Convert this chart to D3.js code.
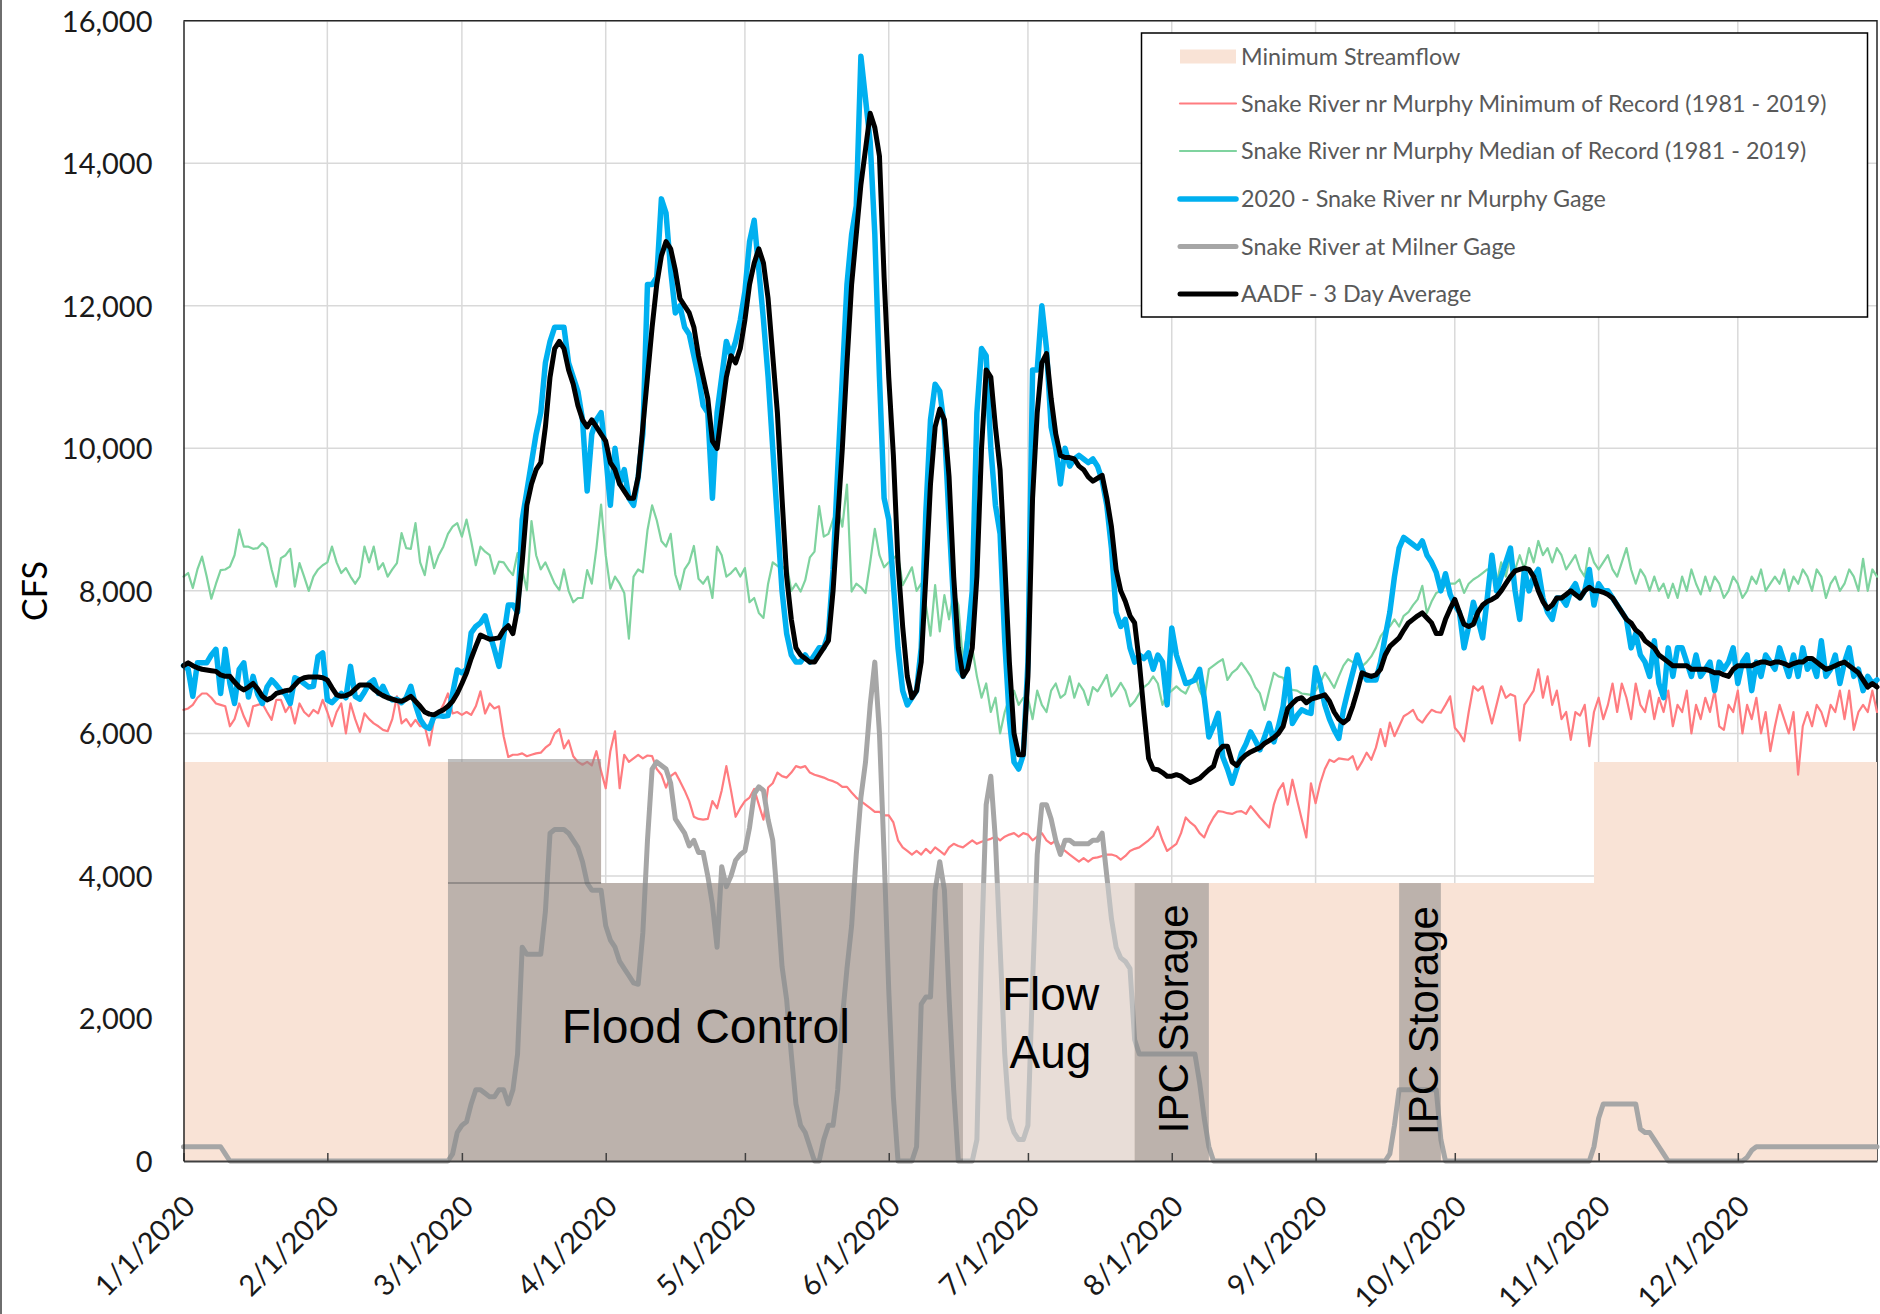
<!DOCTYPE html>
<html>
<head>
<meta charset="utf-8">
<title>Snake River flows 2020</title>
<script src="https://cdn.jsdelivr.net/npm/d3@7/dist/d3.min.js"></script>
<style>
  html, body { margin: 0; padding: 0; background: #ffffff; }
  svg { display: block; }
</style>
</head>
<body>
<svg id="chart" width="1880" height="1314"></svg>
<script>
// ====================== DATA ======================
const year = 2020;
const monthTickLabels = ["1/1/2020","2/1/2020","3/1/2020","4/1/2020","5/1/2020","6/1/2020",
  "7/1/2020","8/1/2020","9/1/2020","10/1/2020","11/1/2020","12/1/2020"];
const yTickValues = [0, 2000, 4000, 6000, 8000, 10000, 12000, 14000, 16000];

// Daily CFS values, one inner array per month (Jan..Dec 2020)
const minRecord = [
  [6330,6350,6400,6500,6560,6560,6500,6420,6400,6380,6100,6200,6420,6240,6100,6380,6400,6420,6300,6190,6470,6470,6300,6400,6140,6420,6300,6240,6330,6280,6470],
  [6300,6100,6300,6420,6000,6420,6200,6020,6280,6200,6140,6100,6050,6030,6200,6520,6140,6200,6100,6190,6100,6100,5830,6190,6280,6400,6560,6280,6300],
  [6260,6300,6260,6380,6590,6280,6420,6350,6380,5960,5670,5700,5700,5720,5680,5700,5720,5730,5800,5850,6000,6060,5790,5900,5680,5600,5560,5600,5550,5750,5470],
  [5230,5750,6030,5230,5700,5600,5650,5700,5650,5690,5680,5500,5420,5240,5400,5450,5330,5200,5050,4830,4800,4790,4800,5050,4950,5200,5540,5200,4830,4950],
  [5050,5100,5220,5000,4790,5240,5300,5450,5400,5380,5450,5540,5520,5540,5450,5420,5400,5380,5350,5330,5300,5250,5250,5170,5100,5050,5000,4950,4900,4900,4850],
  [4850,4750,4500,4400,4350,4300,4350,4300,4380,4320,4400,4350,4300,4400,4450,4420,4400,4450,4500,4450,4480,4500,4520,4550,4500,4550,4580,4600,4550,4600],
  [4580,4500,4550,4600,4500,4450,4500,4400,4350,4300,4250,4200,4250,4200,4250,4260,4280,4300,4300,4280,4230,4280,4350,4380,4400,4450,4500,4560,4690,4500,4350],
  [4400,4450,4600,4820,4750,4700,4600,4540,4700,4820,4910,4900,4880,4870,4900,4910,4870,4980,4900,4820,4750,4680,5000,5200,5300,5000,5350,5070,4800,4540,5300],
  [5020,5300,5500,5630,5600,5650,5640,5630,5680,5490,5600,5730,5630,5800,6060,5820,6150,5960,6100,6240,6280,6330,6200,6150,6250,6330,6300,6290,6400,6520],
  [6080,6000,5890,6300,6660,6600,6660,6400,6140,6400,6660,6500,6550,6520,5900,6400,6500,6600,6900,6500,6800,6400,6600,6200,6300,5910,6300,6250,6400,5820,6300],
  [6500,6200,6400,6700,6300,6700,6500,6200,6700,6400,6300,6600,6200,6500,6300,6600,6100,6400,6300,6600,6000,6400,6200,6500,6300,6600,6100,6050,6400,6300],
  [6600,6000,6400,6200,6500,6000,6300,5750,6100,6400,6200,6000,6300,5420,6100,6300,6100,6400,6300,6100,6400,6300,6600,6200,6600,6050,6300,6400,6300,6600,6300]
];

const medianRecord = [
  [8200,8250,8040,8300,8480,8200,7890,8100,8290,8300,8340,8500,8860,8620,8620,8590,8600,8670,8600,8300,8060,8460,8500,8590,8060,8390,8200,8000,8200,8300,8360],
  [8400,8620,8400,8250,8320,8200,8100,8200,8620,8400,8620,8300,8390,8200,8300,8390,8810,8600,8590,8950,8400,8220,8620,8320,8500,8620,8800,8900,8950],
  [8760,9000,8700,8360,8620,8550,8500,8240,8410,8400,8300,8220,8530,8300,8010,8980,8500,8300,8400,8250,8100,8010,8300,8000,7840,7900,7900,8290,8100,8600,9210],
  [8500,8030,8200,8100,7970,7330,8200,8300,8260,8850,9200,8990,8700,8620,8800,8230,8020,8300,8400,8630,8170,8100,8200,7900,8620,8500,8200,8250,8320,8200],
  [8320,7840,7900,7690,7620,8100,8400,8350,8300,8380,8000,8100,7990,8150,8470,8550,9190,8760,8800,9000,9160,8900,9490,7990,8100,8050,7970,8400,8870,8500,8330],
  [8400,8450,8520,8080,8200,8330,8000,8100,7800,7370,8080,7430,7940,7600,8000,7800,7000,7500,7200,6800,6500,6700,6300,6500,6000,6300,6500,6600,6400,6500],
  [6500,6200,6600,6400,6300,6600,6700,6500,6550,6800,6500,6700,6600,6400,6650,6590,6700,6820,6520,6600,6710,6600,6380,6450,6560,6650,6700,6800,6700,6400,6550],
  [6600,6660,6600,6560,6700,6820,6600,6470,6900,6950,7000,7040,6750,6850,6900,6990,6900,6800,6650,6560,6330,6600,6850,6800,6780,6610,6610,6600,6560,6550,6540],
  [6600,6710,6850,6750,6640,6800,6950,7040,7000,7040,6940,7000,7080,7200,7360,7450,7500,7600,7500,7650,7700,7800,7880,8070,7690,7850,7970,8000,8070,8100],
  [8100,8160,7970,8100,8160,8200,8250,8300,8250,8100,8400,8200,8500,8300,8500,8300,8600,8400,8700,8500,8600,8400,8600,8500,8300,8400,8500,8300,8200,8600,8400],
  [8300,8400,8500,8300,8200,8400,8600,8300,8100,8300,8200,8000,8200,8000,8100,7900,8100,7900,8200,8000,8300,8100,7950,8200,8000,8200,8100,7900,8000,8200],
  [8100,7900,8000,8200,8100,8300,8000,8100,8200,8100,8300,8000,8200,8100,8300,8200,8000,8300,8200,7900,8100,8200,8000,8100,8300,8200,8000,8450,8000,8300,8200]
];

const murphy2020 = [
  [6950,6900,6520,6990,6990,6990,7100,7180,6560,7180,6700,6420,6900,6990,6510,6800,6550,6420,6650,6750,6680,6600,6550,6420,6780,6750,6700,6650,6660,7080,7130],
  [6470,6430,6500,6560,6500,6940,6520,6480,6580,6700,6750,6560,6660,6520,6470,6480,6430,6500,6660,6400,6200,6100,6070,6240,6250,6240,6250,6560,6890],
  [6850,6900,7410,7500,7550,7650,7400,7180,6940,7360,7800,7800,7700,9000,9400,9800,10200,10500,11200,11500,11700,11700,11700,11200,11000,10800,10400,9400,10200,10400,10500],
  [9900,9200,10000,9500,9700,9300,9200,9600,10200,12300,12300,12400,13500,13300,12500,11900,12000,11700,11600,11300,11000,10600,10500,9300,10500,11000,11500,11300,11500,11800],
  [12200,12900,13200,12500,11800,11000,10000,9000,8000,7400,7100,7000,7000,7100,7000,7100,7200,7200,7400,8300,9700,11000,12300,13000,13400,15500,14900,14300,13000,11000,9300],
  [9000,8100,7200,6600,6400,6500,6600,7200,9100,10400,10900,10800,10300,9000,7800,6900,6800,7300,8000,10500,11400,11300,10000,9200,8800,7300,6200,5600,5500,5700],
  [7000,11100,11100,12000,11400,10300,10000,9500,10000,9750,9850,9900,9850,9800,9850,9750,9550,9200,8600,7700,7500,7600,7200,7000,7100,7050,7130,6900,7100,7000,6400],
  [7480,7100,6900,6700,6720,6750,6900,6500,5950,6100,6280,5670,5500,5300,5500,5720,5850,6020,5900,5770,5950,6140,5880,6100,6380,6900,6140,6250,6330,6300,6280],
  [6920,6700,6400,6200,6050,5930,6330,6600,6850,7100,6900,6750,6750,6750,7000,7360,7700,8200,8600,8750,8700,8650,8600,8700,8500,8400,8260,8000,8240,7950],
  [7800,7700,7200,7500,7840,7600,7340,7900,8500,8000,8200,8400,8600,8000,7600,8300,8000,8200,8300,7900,7700,7600,7900,7900,7800,8000,8100,7900,8000,8300,7800],
  [8100,8000,8000,7900,7800,7700,7600,7200,7400,7100,7000,6800,7300,6700,6500,7200,6800,7200,7200,7000,6800,7100,6800,6900,7000,6600,7000,6900,7000,7200],
  [6700,7000,7100,6600,7000,6800,7100,7000,6900,7200,7000,6800,7100,6800,7200,6900,7000,6800,7300,6800,6900,7100,6700,7000,7200,6800,6900,6600,6800,6700,6750]
];

const milnerGage = [
  [200,200,200,200,200,200,200,200,200,100,0,0,0,0,0,0,0,0,0,0,0,0,0,0,0,0,0,0,0,0,0],
  [0,0,0,0,0,0,0,0,0,0,0,0,0,0,0,0,0,0,0,0,0,0,0,0,0,0,0,100,400],
  [500,550,800,1000,1000,950,900,900,1000,1000,800,1000,1500,3000,2900,2900,2900,2900,3500,4600,4650,4650,4650,4600,4500,4400,4200,3900,3800,3800,3800],
  [3300,3100,3000,2800,2700,2600,2500,2480,3200,4500,5500,5600,5550,5500,5300,4800,4700,4600,4420,4500,4330,4330,4000,3600,3000,4130,3850,4000,4220,4300],
  [4350,4680,5150,5250,5200,4790,4500,3660,2730,2260,1500,800,500,400,200,0,0,300,500,500,1000,2000,2700,3300,4300,5100,5600,6400,7000,6000,4300],
  [2400,900,0,0,0,0,200,2200,2300,2300,3800,4200,3800,2300,1000,0,0,0,0,300,3000,5000,5400,4500,3000,1500,600,400,300,300],
  [500,2500,4300,5000,5000,4800,4500,4300,4500,4500,4450,4450,4450,4450,4500,4500,4600,4000,3400,3000,2850,2800,2700,1700,1500,1500,1500,1500,1500,1500,1500],
  [1500,1500,1500,1500,1500,1500,1100,600,200,0,0,0,0,0,0,0,0,0,0,0,0,0,0,0,0,0,0,0,0,0,0],
  [0,0,0,0,0,0,0,0,0,0,0,0,0,0,0,0,100,500,1000,1000,1000,1000,1000,1000,1000,1000,1000,300,0,0],
  [0,0,0,0,0,0,0,0,0,0,0,0,0,0,0,0,0,0,0,0,0,0,0,0,0,0,0,0,0,0,200],
  [600,800,800,800,800,800,800,800,800,450,400,400,300,200,100,0,0,0,0,0,0,0,0,0,0,0,0,0,0,0],
  [0,0,50,150,200,200,200,200,200,200,200,200,200,200,200,200,200,200,200,200,200,200,200,200,200,200,200,200,200,200,200]
];

const aadf3Day = [
  [6950,6990,6950,6920,6900,6890,6880,6870,6820,6800,6800,6720,6650,6610,6650,6700,6620,6520,6470,6500,6560,6580,6600,6610,6680,6750,6780,6790,6790,6790,6780],
  [6750,6640,6540,6520,6530,6560,6620,6680,6680,6680,6620,6570,6530,6500,6480,6460,6450,6480,6520,6450,6380,6300,6270,6260,6300,6330,6380,6450,6560],
  [6700,6850,7050,7220,7380,7350,7320,7330,7340,7450,7510,7400,7750,8400,9200,9500,9700,9800,10300,11000,11400,11500,11400,11100,10900,10600,10400,10300,10400,10300,10200],
  [10100,9800,9700,9500,9400,9300,9300,9600,10300,11000,11700,12300,12700,12900,12800,12500,12100,12000,11900,11700,11300,11000,10700,10100,10000,10500,11000,11300,11200,11400],
  [11800,12300,12600,12800,12600,12100,11300,10500,9300,8200,7600,7200,7100,7050,7000,7000,7100,7200,7300,8000,9000,10000,11200,12300,13000,13700,14200,14700,14500,14100,12400],
  [11000,9900,8400,7500,6800,6500,6600,7000,8200,9500,10300,10550,10400,9600,8200,7200,6800,6900,7200,8200,10000,11100,11000,10300,9700,8400,7000,6000,5700,5700],
  [6800,9300,10500,11200,11330,10700,10200,9900,9870,9870,9850,9750,9700,9600,9540,9580,9620,9300,8900,8300,8000,7850,7650,7550,7000,6300,5650,5500,5490,5450,5400],
  [5400,5420,5400,5350,5310,5340,5370,5430,5490,5540,5750,5820,5820,5600,5550,5640,5700,5740,5770,5800,5860,5900,5940,6000,6100,6350,6420,6480,6500,6430,6480],
  [6500,6520,6540,6450,6300,6200,6150,6200,6380,6600,6850,6820,6800,6820,6900,7100,7220,7280,7340,7450,7550,7600,7650,7690,7620,7550,7400,7400,7600,7750],
  [7880,7700,7530,7500,7530,7700,7800,7850,7880,7920,8000,8100,8200,8280,8300,8320,8300,8200,8000,7850,7750,7800,7900,7900,7950,8000,7950,7900,8000,8050,8000],
  [8000,7980,7950,7900,7800,7700,7600,7550,7450,7400,7300,7250,7200,7100,7050,7000,6950,6950,6950,6950,6900,6900,6900,6900,6880,6850,6850,6820,6800,6900],
  [6950,6950,6950,6950,6980,7000,7000,6980,7000,7000,6980,6950,6980,7000,7000,7050,7050,7000,6950,6900,6920,6950,6980,7000,6950,6900,6850,6750,6650,6700,6650]
];

// Minimum streamflow target (step function, value holds until next date)
const minStreamflowDates = ["2020-01-01", "2020-03-31", "2020-10-31", "2020-12-31"];
const minStreamflowCfs   = [5600, 3900, 5600, 5600];

// Operation periods (shaded overlays)
const floodControlDates = ["2020-02-27", "2020-03-31", "2020-06-17"];
const floodControlCfs   = [5640, 3900, 3900];
const flowAugDates      = ["2020-06-17", "2020-07-24"];
const flowAugCfs        = 3900;
const ipcStorageStart   = ["2020-07-24", "2020-09-19"];
const ipcStorageEnd     = ["2020-08-09", "2020-09-28"];
const ipcStorageCfs     = 3900;

// Annotation labels (anchored in data space)
const annotationText   = ["Flood Control", "Flow", "Aug", "IPC Storage", "IPC Storage"];
const annotationDates  = ["2020-04-22T14:00:00Z", "2020-07-05T21:00:00Z", "2020-07-05T21:00:00Z", "2020-08-04T12:00:00Z", "2020-09-27T10:00:00Z"];
const annotationCfs    = [1650, 2120, 1305, 390, 365];

const legendLabels = [
  "Minimum Streamflow",
  "Snake River nr Murphy Minimum of Record (1981 - 2019)",
  "Snake River nr Murphy Median of Record (1981 - 2019)",
  "2020 - Snake River nr Murphy Gage",
  "Snake River at Milner Gage",
  "AADF - 3 Day Average"
];

// ====================== CHART ======================
const monthLens = [31,29,31,30,31,30,31,31,30,31,30,31];
function daily(monthly, name) {
  const rows = [];
  monthly.forEach((vals, m) => {
    if (vals.length !== monthLens[m]) console.error(name, "month", m + 1, "has", vals.length);
    vals.forEach((v, k) => rows.push({ date: new Date(Date.UTC(year, m, k + 1)), value: v }));
  });
  return rows;
}

const plot = { left: 183.5, right: 1877, top: 20.7, bottom: 1161 };
const svg = d3.select("#chart");

const x = d3.scaleUtc()
  .domain([new Date("2020-01-01"), new Date("2020-12-31")])
  .range([plot.left, plot.right]);
const y = d3.scaleLinear().domain([0, 16000]).range([plot.bottom, plot.top]);

const monthDates = d3.range(12).map(m => new Date(Date.UTC(year, m, 1)));

// outer chart frame (left edge)
svg.append("line").attr("x1", 1).attr("x2", 1).attr("y1", 0).attr("y2", 1314)
  .attr("stroke", "#6e6e6e").attr("stroke-width", 2);

// gridlines
const grid = svg.append("g");
grid.selectAll("line.h").data(yTickValues.filter(v => v > 0)).join("line")
  .attr("x1", plot.left).attr("x2", plot.right)
  .attr("y1", d => y(d)).attr("y2", d => y(d))
  .attr("stroke", "#d9d9d9").attr("stroke-width", 1.5);
grid.selectAll("line.v").data(monthDates.slice(1)).join("line")
  .attr("x1", d => x(d)).attr("x2", d => x(d))
  .attr("y1", plot.top).attr("y2", plot.bottom)
  .attr("stroke", "#d9d9d9").attr("stroke-width", 1.5);
// top & right frame of plot area
svg.append("path")
  .attr("d", `M${plot.left},${plot.top}H${plot.right}V${plot.bottom}`)
  .attr("fill", "none").attr("stroke", "#262626").attr("stroke-width", 1.5);

// minimum streamflow area
const minFlow = minStreamflowDates.map((d, i) => ({ date: new Date(d), value: minStreamflowCfs[i] }));
const stepArea = d3.area().curve(d3.curveStepAfter)
  .x(d => x(d.date)).y0(y(0)).y1(d => y(d.value));
svg.append("path").datum(minFlow).attr("d", stepArea).attr("fill", "#f9e3d6");

// lines
const lineGen = d3.line().x(d => x(d.date)).y(d => y(d.value));
const seriesDefs = [
  { data: minRecord,    name: "min",    color: "#ff7c80", width: 2.2 },
  { data: medianRecord, name: "median", color: "#7fd39f", width: 2.2 },
  { data: murphy2020,   name: "murphy", color: "#00b0f0", width: 5.5 },
  { data: milnerGage,   name: "milner", color: "#a6a6a6", width: 5 },
  { data: aadf3Day,     name: "aadf",   color: "#000000", width: 5 }
];
const linesG = svg.append("g");
seriesDefs.forEach(s => {
  linesG.append("path").datum(daily(s.data, s.name))
    .attr("d", lineGen).attr("fill", "none")
    .attr("stroke", s.color).attr("stroke-width", s.width)
    .attr("stroke-linejoin", "round").attr("stroke-linecap", "round");
});

// operation overlays (semi-transparent, drawn above lines)
const ov = svg.append("g");
const flood = floodControlDates.map((d, i) => ({ date: new Date(d), value: floodControlCfs[i] }));
ov.append("path").datum(flood).attr("d", stepArea).attr("fill", "rgba(137,137,137,0.545)");
ov.append("line")
  .attr("x1", x(new Date(floodControlDates[0]))).attr("x2", x(new Date(floodControlDates[1])))
  .attr("y1", y(floodControlCfs[1])).attr("y2", y(floodControlCfs[1]))
  .attr("stroke", "rgba(90,90,90,0.55)").attr("stroke-width", 1.5);
ov.append("rect")
  .attr("x", x(new Date(flowAugDates[0]))).attr("width", x(new Date(flowAugDates[1])) - x(new Date(flowAugDates[0])))
  .attr("y", y(flowAugCfs)).attr("height", y(0) - y(flowAugCfs))
  .attr("fill", "rgba(215,215,215,0.5)");
ipcStorageStart.forEach((s, i) => {
  ov.append("rect")
    .attr("x", x(new Date(s))).attr("width", x(new Date(ipcStorageEnd[i])) - x(new Date(s)))
    .attr("y", y(ipcStorageCfs)).attr("height", y(0) - y(ipcStorageCfs))
    .attr("fill", "rgba(137,137,137,0.545)");
});

// annotations
const annG = svg.append("g").attr("font-family", "'Liberation Sans', Arial, sans-serif").attr("fill", "#000");
annotationText.forEach((t, i) => {
  const px = x(new Date(annotationDates[i])), py = y(annotationCfs[i]);
  const txt = annG.append("text").text(t);
  if (t === "IPC Storage") {
    txt.attr("transform", `translate(${px},${py}) rotate(-90)`).attr("text-anchor", "start").attr("font-size", 42);
  } else if (t === "Flood Control") {
    txt.attr("x", px).attr("y", py).attr("text-anchor", "middle").attr("font-size", 48);
  } else {
    txt.attr("x", px).attr("y", py).attr("text-anchor", "middle").attr("font-size", 46);
  }
});

// x axis
const xAxis = d3.axisBottom(x).tickValues(monthDates)
  .tickSizeInner(-8).tickSizeOuter(0)
  .tickFormat((d, i) => monthTickLabels[i]);
const gx = svg.append("g").attr("transform", `translate(0,${plot.bottom})`).call(xAxis)
  .attr("font-family", "Lato, sans-serif").attr("font-size", 29);
gx.select(".domain").attr("stroke", "#404040").attr("stroke-width", 2);
gx.selectAll(".tick line").attr("stroke", "#404040").attr("stroke-width", 1.5);
gx.selectAll(".tick text")
  .attr("y", 0).attr("dy", 0).attr("fill", "#1a1a1a")
  .attr("text-anchor", "end")
  .attr("transform", "translate(13,47) rotate(-45)");

// y axis
const yAxis = d3.axisLeft(y).tickValues(yTickValues).tickSize(0).tickPadding(31)
  .tickFormat(d3.format(","));
const gy = svg.append("g").attr("transform", `translate(${plot.left},0)`).call(yAxis)
  .attr("font-family", "Lato, sans-serif").attr("font-size", 29);
gy.select(".domain").attr("stroke", "#262626").attr("stroke-width", 1.5);
gy.selectAll(".tick text").attr("dy", "0.36em").attr("fill", "#1a1a1a");

// y axis title
svg.append("text").text("CFS")
  .attr("transform", `translate(47,591) rotate(-90)`)
  .attr("text-anchor", "middle")
  .attr("font-family", "Lato, sans-serif").attr("font-size", 34).attr("fill", "#000");

// legend
const lg = svg.append("g");
lg.append("rect").attr("x", 1141.5).attr("y", 33).attr("width", 726).attr("height", 284)
  .attr("fill", "#fff").attr("stroke", "#000").attr("stroke-width", 1.5);
const rowY = [56.5, 103.5, 151, 199, 246.5, 294];
const swatch = [
  { type: "rect", color: "#f9e3d6" },
  { type: "line", color: "#ff7c80", width: 2.2 },
  { type: "line", color: "#7fd39f", width: 2.2 },
  { type: "line", color: "#00b0f0", width: 5.5 },
  { type: "line", color: "#a6a6a6", width: 5 },
  { type: "line", color: "#000000", width: 5 }
];
legendLabels.forEach((lab, i) => {
  const cy = rowY[i];
  if (swatch[i].type === "rect") {
    lg.append("rect").attr("x", 1180).attr("y", cy - 7).attr("width", 56).attr("height", 14).attr("fill", swatch[i].color);
  } else {
    lg.append("line").attr("x1", 1180).attr("x2", 1236).attr("y1", cy).attr("y2", cy)
      .attr("stroke", swatch[i].color).attr("stroke-width", swatch[i].width).attr("stroke-linecap", "round");
  }
  lg.append("text").text(lab).attr("x", 1241).attr("y", cy).attr("dy", "0.35em")
    .attr("font-family", "Lato, sans-serif").attr("font-size", 23.3).attr("fill", "#595959");
});
</script>
</body>
</html>
